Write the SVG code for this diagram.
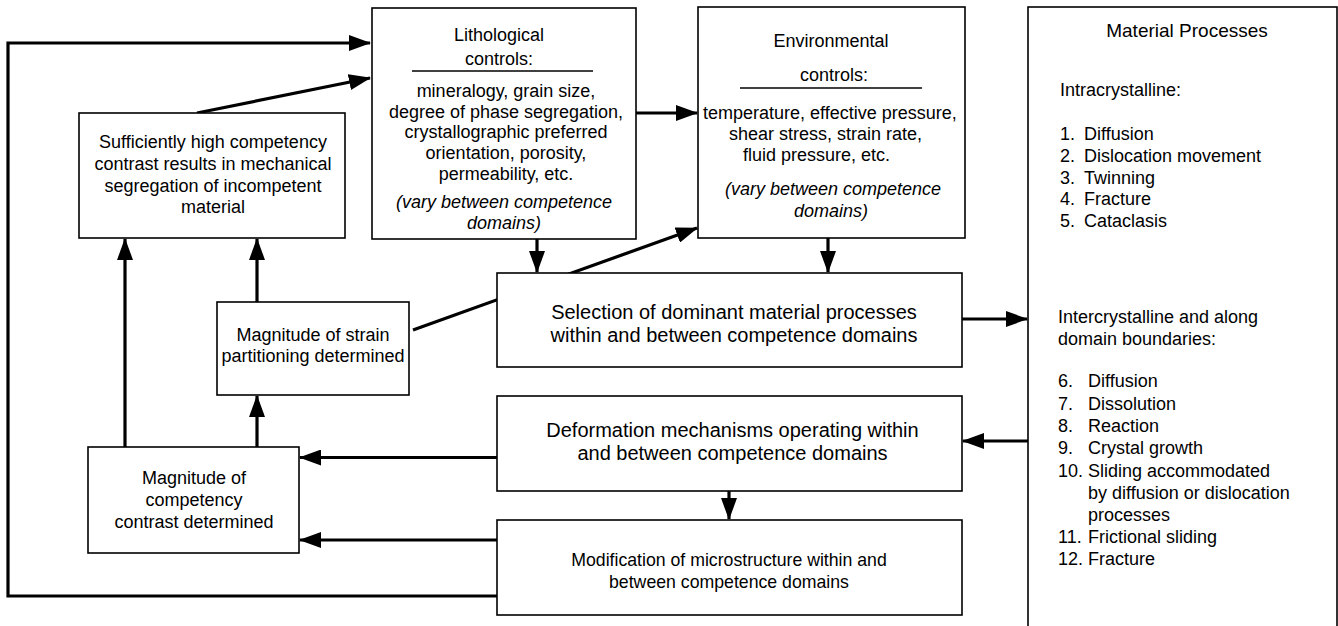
<svg xmlns="http://www.w3.org/2000/svg" width="1338" height="626" viewBox="0 0 1338 626">
<style>
.box{fill:#fff;stroke:#000;stroke-width:1.6}
.c{fill:none;stroke:#000;stroke-width:3.2}
.ul{stroke:#000;stroke-width:1.6}
text{font-family:"Liberation Sans",Arial,Helvetica,sans-serif;font-size:18px;fill:#000}
.m{text-anchor:middle}
.it{font-style:italic}
</style>
<defs>
<marker id="ah" markerUnits="userSpaceOnUse" markerWidth="22" markerHeight="16" refX="21" refY="8" orient="auto">
<path d="M0,0 L22,8 L0,16 z" fill="#000"/>
</marker>
</defs>
<rect width="1338" height="626" fill="#fff"/>
<g id="connectors">
<path class="c" d="M497,596 H8 V43 H370" marker-end="url(#ah)"/>
<path class="c" d="M197,113 L370,78" marker-end="url(#ah)"/>
<path class="c" d="M636,113 H697" marker-end="url(#ah)"/>
<path class="c" d="M537,239 V272" marker-end="url(#ah)"/>
<path class="c" d="M828,238 V272" marker-end="url(#ah)"/>
<path class="c" d="M413,330 L697,228" marker-end="url(#ah)"/>
<path class="c" d="M962,319 H1027" marker-end="url(#ah)"/>
<path class="c" d="M1028,441 H963" marker-end="url(#ah)"/>
<path class="c" d="M497,457.5 H300" marker-end="url(#ah)"/>
<path class="c" d="M497,540 H300" marker-end="url(#ah)"/>
<path class="c" d="M729,491 V519" marker-end="url(#ah)"/>
<path class="c" d="M257,447 V396" marker-end="url(#ah)"/>
<path class="c" d="M257,302 V239" marker-end="url(#ah)"/>
<path class="c" d="M125,447 V239" marker-end="url(#ah)"/>
</g>
<g id="sufficient">
<rect class="box" x="79" y="113" width="266" height="125"/>
<text class="m" x="213" y="148">Sufficiently high competency</text>
<text class="m" x="213" y="170">contrast results in mechanical</text>
<text class="m" x="213" y="191.5">segregation of incompetent</text>
<text class="m" x="213" y="213">material</text>
</g>
<g id="lithological">
<rect class="box" x="372" y="8" width="264" height="231"/>
<text class="m" x="499" y="41">Lithological</text>
<text class="m" x="499" y="65">controls:</text>
<line class="ul" x1="412" y1="71" x2="593" y2="71"/>
<g style="font-size:18.5px">
<text class="m" x="506" y="97">mineralogy, grain size,</text>
<text class="m" x="506" y="117.5">degree of phase segregation,</text>
<text class="m" x="506" y="138">crystallographic preferred</text>
<text class="m" x="506" y="159">orientation, porosity,</text>
<text class="m" x="506" y="179.5">permeability, etc.</text>
</g>
<text class="m it" x="504" y="208">(vary between competence</text>
<text class="m it" x="504" y="229">domains)</text>
</g>
<g id="environmental">
<rect class="box" x="698" y="7" width="267" height="231"/>
<text class="m" x="831" y="47">Environmental</text>
<text class="m" x="834" y="81">controls:</text>
<line class="ul" x1="740" y1="88" x2="922" y2="88"/>
<text x="703" y="119">temperature, effective pressure,</text>
<text x="729" y="140">shear stress, strain rate,</text>
<text x="743" y="161">fluid pressure, etc.</text>
<text class="m it" x="833" y="195">(vary between competence</text>
<text class="m it" x="831" y="217">domains)</text>
</g>
<g id="material">
<rect class="box" x="1028" y="7" width="309" height="640"/>
<text class="m" x="1187" y="37" style="font-size:19px">Material Processes</text>
<text x="1060" y="96">Intracrystalline:</text>
<text x="1060" y="140">1.</text><text x="1084" y="140">Diffusion</text>
<text x="1060" y="161.8">2.</text><text x="1084" y="161.8">Dislocation movement</text>
<text x="1060" y="183.6">3.</text><text x="1084" y="183.6">Twinning</text>
<text x="1060" y="205.4">4.</text><text x="1084" y="205.4">Fracture</text>
<text x="1060" y="227.2">5.</text><text x="1084" y="227.2">Cataclasis</text>
<text x="1058" y="323">Intercrystalline and along</text>
<text x="1058" y="345">domain boundaries:</text>
<text x="1058" y="387.3">6.</text><text x="1088" y="387.3">Diffusion</text>
<text x="1058" y="409.7">7.</text><text x="1088" y="409.7">Dissolution</text>
<text x="1058" y="432">8.</text><text x="1088" y="432">Reaction</text>
<text x="1058" y="454.4">9.</text><text x="1088" y="454.4">Crystal growth</text>
<text x="1058" y="476.7">10.</text><text x="1088" y="476.7">Sliding accommodated</text>
<text x="1088" y="499">by diffusion or dislocation</text>
<text x="1088" y="521">processes</text>
<text x="1058" y="542.5">11.</text><text x="1088" y="542.5">Frictional sliding</text>
<text x="1058" y="565">12.</text><text x="1088" y="565">Fracture</text>
</g>
<g id="strain">
<rect class="box" x="217" y="302" width="192" height="93"/>
<text class="m" x="313" y="341">Magnitude of strain</text>
<text class="m" x="313" y="362">partitioning determined</text>
</g>
<g id="selection">
<rect class="box" x="497" y="273" width="465" height="94"/>
<text class="m" x="734" y="319" style="font-size:20px">Selection of dominant material processes</text>
<text class="m" x="734" y="342" style="font-size:20px">within and between competence domains</text>
</g>
<g id="deformation">
<rect class="box" x="497" y="396" width="465" height="95"/>
<text class="m" x="732.5" y="437" style="font-size:20px">Deformation mechanisms operating within</text>
<text class="m" x="732.5" y="460" style="font-size:20px">and between competence domains</text>
</g>
<g id="competency">
<rect class="box" x="88" y="447" width="211" height="106"/>
<text class="m" x="194" y="484">Magnitude of</text>
<text class="m" x="194" y="506">competency</text>
<text class="m" x="194" y="528">contrast determined</text>
</g>
<g id="modification">
<rect class="box" x="497" y="520" width="465" height="95"/>
<text class="m" x="729" y="566" style="font-size:17.7px">Modification of microstructure within and</text>
<text class="m" x="729" y="588" style="font-size:17.7px">between competence domains</text>
</g>
</svg>
